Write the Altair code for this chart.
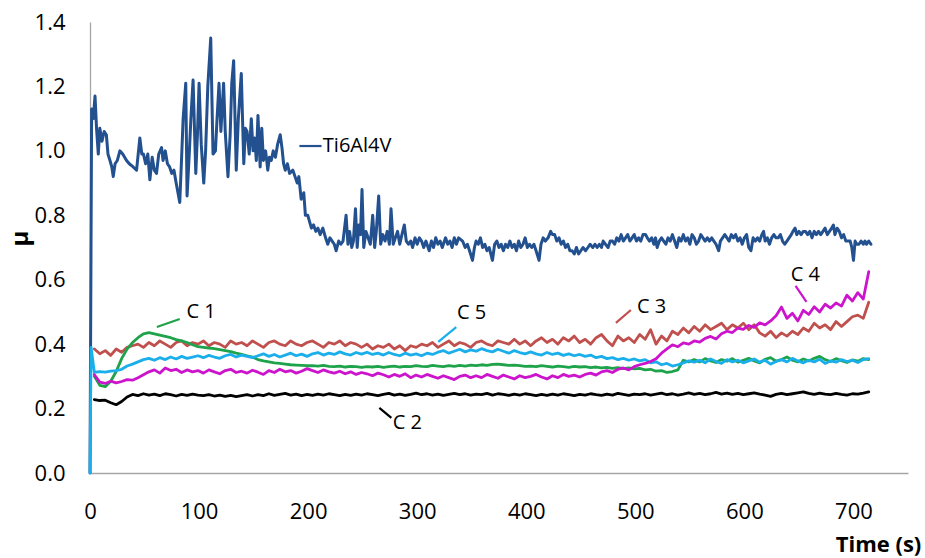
import altair as alt
import pandas as pd

# ---------------- data ----------------
TI_T = [0, 1.5, 3, 4.6, 6, 7.6, 9, 11, 13, 15, 16.5, 18.3, 20, 21.3, 23, 25, 27.4, 30, 33.5, 36,
        39.6, 42.7, 45.7, 47.5, 49, 51, 53, 54.9, 57, 59, 61, 63, 65.6, 67, 69, 71, 73, 75, 77, 79,
        82.3, 84, 85.4, 87.8, 89, 91, 92.5, 94.5, 97, 98.5, 100, 102, 104.3, 106, 108, 110.7, 112.8, 115, 116.5, 118.3,
        120, 122.5, 124, 126.5, 128.5, 130, 131.7, 134.1, 136, 138.7, 141, 142.5, 144, 146, 147.9, 149.5, 151, 152.5, 154, 156,
        157.5, 159, 161, 163, 164.5, 166.2, 168, 170, 172, 174.4, 176, 177.5, 179, 181, 183, 186, 188, 190, 191.5, 193.6,
        196, 197.5, 199.7, 201.3, 203, 205, 207, 209, 211, 213.5, 216, 218, 220, 222, 224, 225.7, 228, 230, 232, 234.8,
        236.5, 238, 240, 241.5, 243.4, 245, 246.5, 248, 249.4, 251, 253, 255, 257, 259.2, 261, 262.5, 264.7, 266.5, 268.5, 270.5,
        272.5, 274.5, 276, 278, 280, 282, 284, 286, 288.2, 290, 292, 294, 295.8, 298, 300, 302, 304, 306, 308, 311,
        313, 315, 317, 319, 321, 323, 326, 328, 330, 332, 334, 336, 338, 341.6, 344, 346, 348, 350.7, 352.5, 354,
        356, 358, 360, 362, 364, 366, 369, 371, 373, 375, 377, 379, 381, 383, 385, 387, 389, 391, 393, 395,
        397, 399, 401, 403, 405, 407, 409, 411.7, 413.5, 415.5, 417.5, 420, 422.4, 424, 426, 428, 430, 432, 434, 436,
        438, 440, 442, 444, 446, 448, 450, 452, 454.4, 456.5, 458.5, 461, 463, 465, 467, 469, 470.5, 472.7, 475, 477,
        479, 481, 483, 485, 487, 489, 491, 493, 495, 497, 499, 501, 503, 505, 507, 509.3, 511, 513, 515, 517,
        518.5, 520, 522, 524, 526, 528, 530, 532, 534, 536, 538, 540, 542, 544, 546, 548, 550, 552, 554, 556,
        558, 560, 562, 564, 566, 568, 570, 572, 574, 576.4, 578, 580, 582, 584, 586, 588, 590, 592, 594, 596,
        598, 600, 602, 604, 606, 608, 610, 612, 614, 616, 617.6, 619, 621, 623, 625, 627, 629, 631, 633, 635,
        637, 639, 641, 643, 644.5, 646.5, 648, 650, 652, 654, 656, 658, 660, 662, 664, 666, 668, 670, 672, 674,
        676, 678, 680, 681.6, 683, 685, 687, 689, 691, 693, 695.3, 697, 698.5, 700, 701.5, 703, 705, 707, 709, 710.6,
        712, 714, 716]
TI_MU = [0.00, 1.13, 1.10, 1.17, 1.07, 0.99, 1.07, 1.03, 1.06, 1.05, 0.99, 0.97, 0.95, 0.92, 0.96, 0.97, 1.00, 0.99, 0.97, 0.96,
         0.95, 0.94, 1.04, 0.99, 0.99, 0.96, 0.99, 0.91, 0.98, 0.94, 0.93, 0.99, 1.01, 0.97, 1.00, 0.96, 0.95, 0.93, 0.94, 0.90,
         0.84, 0.98, 1.10, 1.21, 0.86, 0.99, 1.10, 1.22, 0.93, 1.05, 1.21, 1.02, 0.90, 1.00, 1.20, 1.35, 0.99, 1.00, 1.10, 1.21,
         1.06, 1.21, 1.06, 0.92, 1.05, 1.21, 1.28, 0.94, 1.10, 1.24, 0.96, 1.07, 1.06, 0.99, 1.10, 1.00, 1.04, 0.97, 1.11, 0.95,
         1.07, 0.97, 1.00, 0.94, 0.98, 0.97, 1.00, 0.98, 1.02, 1.05, 1.01, 0.96, 0.94, 0.96, 0.93, 0.94, 0.92, 0.90, 0.92, 0.85,
         0.87, 0.80, 0.80, 0.78, 0.76, 0.77, 0.75, 0.76, 0.74, 0.76, 0.73, 0.71, 0.73, 0.72, 0.71, 0.69, 0.72, 0.71, 0.72, 0.80,
         0.71, 0.75, 0.70, 0.72, 0.82, 0.70, 0.77, 0.74, 0.88, 0.70, 0.75, 0.73, 0.71, 0.80, 0.70, 0.75, 0.86, 0.71, 0.74, 0.72,
         0.75, 0.71, 0.82, 0.71, 0.73, 0.75, 0.71, 0.74, 0.77, 0.72, 0.71, 0.72, 0.70, 0.73, 0.71, 0.73, 0.72, 0.70, 0.72, 0.69,
         0.72, 0.70, 0.73, 0.71, 0.72, 0.70, 0.73, 0.71, 0.72, 0.70, 0.73, 0.71, 0.73, 0.72, 0.70, 0.71, 0.69, 0.66, 0.70, 0.72,
         0.71, 0.73, 0.70, 0.71, 0.69, 0.70, 0.66, 0.71, 0.72, 0.70, 0.71, 0.69, 0.71, 0.70, 0.72, 0.70, 0.71, 0.69, 0.72, 0.70,
         0.71, 0.73, 0.70, 0.71, 0.70, 0.71, 0.69, 0.66, 0.71, 0.73, 0.72, 0.73, 0.75, 0.74, 0.74, 0.72, 0.73, 0.71, 0.72, 0.70,
         0.71, 0.69, 0.69, 0.68, 0.70, 0.68, 0.69, 0.70, 0.69, 0.70, 0.71, 0.70, 0.71, 0.70, 0.71, 0.70, 0.72, 0.71, 0.70, 0.72,
         0.72, 0.71, 0.73, 0.72, 0.74, 0.72, 0.73, 0.74, 0.72, 0.73, 0.74, 0.72, 0.73, 0.72, 0.74, 0.74, 0.73, 0.72, 0.73, 0.71,
         0.73, 0.70, 0.72, 0.73, 0.72, 0.71, 0.73, 0.72, 0.74, 0.72, 0.70, 0.73, 0.72, 0.74, 0.72, 0.73, 0.71, 0.74, 0.73, 0.71,
         0.72, 0.74, 0.73, 0.72, 0.73, 0.72, 0.73, 0.72, 0.71, 0.69, 0.72, 0.73, 0.74, 0.73, 0.72, 0.74, 0.73, 0.74, 0.72, 0.73,
         0.71, 0.73, 0.74, 0.70, 0.69, 0.73, 0.72, 0.73, 0.72, 0.74, 0.75, 0.72, 0.73, 0.71, 0.73, 0.74, 0.73, 0.73, 0.74, 0.72,
         0.71, 0.72, 0.73, 0.74, 0.75, 0.76, 0.74, 0.75, 0.74, 0.75, 0.75, 0.74, 0.75, 0.73, 0.75, 0.74, 0.75, 0.74, 0.75, 0.76,
         0.74, 0.75, 0.76, 0.77, 0.74, 0.76, 0.75, 0.73, 0.74, 0.72, 0.72, 0.72, 0.70, 0.66, 0.72, 0.71, 0.71, 0.72, 0.71, 0.72,
         0.71, 0.72, 0.71]

# sample times of the coating curves (s)
T_C = list(range(4, 715, 5))

C1_MU = [0.300, 0.272, 0.268, 0.285, 0.315, 0.355, 0.385, 0.405, 0.420, 0.432,
         0.436, 0.432, 0.428, 0.424, 0.420, 0.414, 0.410, 0.405, 0.398, 0.392,
         0.390, 0.388, 0.386, 0.383, 0.380, 0.377, 0.372, 0.368, 0.364, 0.360,
         0.352, 0.348, 0.345, 0.342, 0.340, 0.338, 0.336, 0.335, 0.334, 0.333,
         0.333, 0.332, 0.334, 0.331, 0.330, 0.332, 0.329, 0.331, 0.330, 0.328,
         0.330, 0.329, 0.331, 0.328, 0.330, 0.332, 0.329, 0.331, 0.330, 0.333,
         0.331, 0.330, 0.334, 0.332, 0.330, 0.333, 0.331, 0.334, 0.332, 0.335,
         0.333, 0.336, 0.334, 0.337, 0.338, 0.336, 0.334, 0.335, 0.333, 0.331,
         0.332, 0.330, 0.333, 0.331, 0.329, 0.332, 0.330, 0.328, 0.331, 0.329,
         0.330, 0.327, 0.329, 0.326, 0.328, 0.325, 0.327, 0.324, 0.326, 0.323,
         0.325, 0.320, 0.322, 0.316, 0.318, 0.312, 0.315, 0.320, 0.350, 0.345,
         0.352, 0.345, 0.355, 0.348, 0.343, 0.352, 0.347, 0.355, 0.344, 0.350,
         0.356, 0.348, 0.342, 0.353, 0.358, 0.347, 0.352, 0.360, 0.350, 0.345,
         0.354, 0.348, 0.356, 0.362, 0.352, 0.346, 0.355, 0.349, 0.343, 0.351,
         0.347, 0.355, 0.352]

C2_MU = [0.228, 0.225, 0.226, 0.218, 0.212, 0.222, 0.236, 0.244, 0.240, 0.246,
         0.242, 0.245, 0.240, 0.246, 0.243, 0.239, 0.244, 0.241, 0.245, 0.242,
         0.240, 0.243, 0.239, 0.242, 0.238, 0.241, 0.237, 0.240, 0.243, 0.239,
         0.243, 0.240, 0.246, 0.241, 0.244, 0.247, 0.242, 0.245, 0.240, 0.244,
         0.241, 0.245, 0.242, 0.246, 0.243, 0.240, 0.244, 0.241, 0.245, 0.242,
         0.246, 0.243, 0.240, 0.244, 0.247, 0.242, 0.245, 0.241, 0.244, 0.248,
         0.243, 0.246, 0.242, 0.245, 0.241, 0.244, 0.247, 0.243, 0.246, 0.242,
         0.245, 0.243, 0.247, 0.242, 0.246, 0.244, 0.241, 0.245, 0.242, 0.246,
         0.243, 0.240, 0.244, 0.241, 0.245, 0.242, 0.246, 0.243, 0.240, 0.244,
         0.242, 0.246, 0.243, 0.241, 0.245, 0.242, 0.247, 0.244, 0.241, 0.245,
         0.243, 0.246, 0.242, 0.245, 0.248, 0.243, 0.246, 0.242, 0.245, 0.249,
         0.244, 0.247, 0.243, 0.246, 0.250, 0.245, 0.248, 0.244, 0.247, 0.243,
         0.246, 0.249, 0.245, 0.242, 0.238, 0.244, 0.247, 0.243, 0.246, 0.249,
         0.252, 0.247, 0.244, 0.248, 0.245, 0.243, 0.247, 0.244, 0.242, 0.246,
         0.245, 0.248, 0.252]

C3_MU = [0.385, 0.370, 0.380, 0.365, 0.385, 0.375, 0.390, 0.395, 0.400, 0.390,
         0.405, 0.395, 0.410, 0.400, 0.390, 0.405, 0.410, 0.395, 0.405, 0.400,
         0.410, 0.395, 0.405, 0.400, 0.390, 0.410, 0.400, 0.405, 0.395, 0.410,
         0.400, 0.390, 0.405, 0.410, 0.400, 0.395, 0.410, 0.400, 0.395, 0.405,
         0.410, 0.400, 0.390, 0.405, 0.400, 0.410, 0.395, 0.405, 0.400, 0.390,
         0.400, 0.385, 0.395, 0.390, 0.400, 0.385, 0.395, 0.380, 0.395, 0.390,
         0.400, 0.395, 0.405, 0.390, 0.400, 0.410, 0.395, 0.405, 0.400, 0.390,
         0.405, 0.410, 0.400, 0.395, 0.410, 0.405, 0.400, 0.415, 0.400, 0.410,
         0.395, 0.410, 0.420, 0.405, 0.415, 0.400, 0.420, 0.410, 0.425, 0.405,
         0.415, 0.400, 0.420, 0.430, 0.410, 0.395, 0.425, 0.410, 0.420, 0.405,
         0.430, 0.415, 0.445, 0.400, 0.425, 0.410, 0.440, 0.430, 0.450, 0.435,
         0.455, 0.440, 0.460, 0.445, 0.455, 0.465, 0.445, 0.460, 0.450, 0.465,
         0.445, 0.460, 0.435, 0.425, 0.440, 0.420, 0.435, 0.425, 0.440, 0.430,
         0.450, 0.440, 0.465, 0.450, 0.460, 0.445, 0.470, 0.455, 0.470, 0.485,
         0.490, 0.480, 0.530]

C4_MU = [0.305, 0.282, 0.278, 0.285, 0.280, 0.284, 0.290, 0.288, 0.296, 0.305,
         0.314, 0.320, 0.310, 0.326, 0.318, 0.322, 0.312, 0.320, 0.314, 0.318,
         0.310, 0.320, 0.314, 0.308, 0.318, 0.322, 0.312, 0.316, 0.310, 0.319,
         0.313, 0.306, 0.318, 0.312, 0.322, 0.314, 0.318, 0.310, 0.316, 0.324,
         0.318, 0.312, 0.320, 0.314, 0.310, 0.316, 0.308, 0.314, 0.306, 0.312,
         0.308, 0.302, 0.310, 0.305, 0.298, 0.306, 0.300, 0.308, 0.296, 0.304,
         0.298, 0.306, 0.300, 0.294, 0.302, 0.296, 0.290, 0.300, 0.304, 0.296,
         0.302, 0.296, 0.306, 0.300, 0.294, 0.304, 0.298, 0.292, 0.302, 0.296,
         0.300, 0.306, 0.298, 0.292, 0.302, 0.296, 0.306, 0.300, 0.304, 0.298,
         0.306, 0.310, 0.304, 0.314, 0.318, 0.312, 0.322, 0.326, 0.320, 0.330,
         0.336, 0.340, 0.346, 0.355, 0.372, 0.385, 0.398, 0.392, 0.404, 0.400,
         0.410, 0.406, 0.418, 0.424, 0.416, 0.432, 0.440, 0.436, 0.450, 0.446,
         0.458, 0.452, 0.466, 0.460, 0.472, 0.488, 0.515, 0.480, 0.496, 0.472,
         0.505, 0.492, 0.516, 0.500, 0.524, 0.512, 0.528, 0.518, 0.552, 0.534,
         0.560, 0.540, 0.625]

C5_START_T = [0, 1]
C5_START_MU = [0.0, 0.39]
C5_MU = [0.312, 0.315, 0.313, 0.316, 0.318, 0.322, 0.332, 0.338, 0.345, 0.352,
         0.356, 0.350, 0.358, 0.352, 0.360, 0.354, 0.362, 0.356, 0.360, 0.364,
         0.358, 0.365, 0.360, 0.356, 0.364, 0.368, 0.360, 0.366, 0.362, 0.358,
         0.364, 0.370, 0.362, 0.368, 0.360, 0.366, 0.372, 0.364, 0.369, 0.362,
         0.370, 0.374, 0.366, 0.372, 0.368, 0.376, 0.370, 0.366, 0.374, 0.369,
         0.375, 0.368, 0.372, 0.366, 0.374, 0.368, 0.364, 0.372, 0.366, 0.370,
         0.364, 0.372, 0.368, 0.375, 0.380, 0.372, 0.378, 0.384, 0.376, 0.382,
         0.378, 0.386, 0.380, 0.376, 0.384, 0.378, 0.372, 0.380, 0.374, 0.370,
         0.376, 0.370, 0.366, 0.374, 0.368, 0.372, 0.365, 0.370, 0.364, 0.368,
         0.362, 0.366, 0.358, 0.362, 0.355, 0.358, 0.352, 0.356, 0.350, 0.354,
         0.348, 0.352, 0.342, 0.345, 0.336, 0.340, 0.332, 0.336, 0.342, 0.348,
         0.344, 0.350, 0.342, 0.354, 0.346, 0.340, 0.352, 0.345, 0.350, 0.342,
         0.348, 0.354, 0.344, 0.350, 0.338, 0.346, 0.352, 0.345, 0.356, 0.348,
         0.342, 0.350, 0.345, 0.353, 0.340, 0.348, 0.344, 0.352, 0.346, 0.350,
         0.343, 0.352, 0.355]

# annotation labels (data coordinates of text anchor and of the leader line ends)
LABELS = ["Ti6Al4V", "C 1", "C 2", "C 3", "C 4", "C 5"]
LABEL_T = [213.5, 88.5, 277.5, 501.5, 642.5, 336.5]
LABEL_MU = [1.015, 0.500, 0.155, 0.515, 0.615, 0.497]
LEAD_T1 = [192.0, 61.3, 265.3, 482.2, 646.9, 319.3]
LEAD_MU1 = [1.015, 0.453, 0.202, 0.466, 0.581, 0.407]
LEAD_T2 = [212.3, 82.3, 276.3, 495.9, 656.9, 335.8]
LEAD_MU2 = [1.015, 0.478, 0.171, 0.506, 0.531, 0.453]

COLORS = {"Ti6Al4V": "#23508E", "C 1": "#1EA34B", "C 2": "#000000",
          "C 3": "#C0504D", "C 4": "#CC14CC", "C 5": "#1AAEEB"}

# ---------------- chart ----------------
FONT = "Open Sans"
x_scale = alt.Scale(domain=[0, 750], nice=False, zero=False)
y_scale = alt.Scale(domain=[0, 1.4], nice=False)

x_axis = alt.Axis(values=[0, 100, 200, 300, 400, 500, 600, 700], grid=False, ticks=False, tickSize=0,
                  domainColor="#A6A6A6", domainWidth=1.3, labelFont=FONT, labelFontSize=22,
                  labelColor="#000000", labelPadding=28, labelFlush=False,
                  title="Time (s)", titleFont=FONT, titleFontSize=22, titleFontWeight="bold",
                  titleColor="#000000", titleX=788, titleY=71, titleAlign="center",
                  titleBaseline="middle")
y_axis = alt.Axis(values=[0, 0.2, 0.4, 0.6, 0.8, 1.0, 1.2, 1.4], format=".1f", grid=False,
                  ticks=False, tickSize=0, domainColor="#A6A6A6", domainWidth=1.3,
                  labelFont=FONT, labelFontSize=22, labelColor="#000000", labelPadding=25,
                  labelFlush=False,
                  title="µ", titleFont=FONT, titleFontSize=24, titleFontWeight="bold",
                  titleColor="#000000", titleX=-70, titleY=216, titleAlign="center",
                  titleBaseline="middle", titleAngle=270)


def line_layer(t, mu, name, width=2.8):
    df = pd.DataFrame({"t": t, "mu": mu})
    return alt.Chart(df).mark_line(color=COLORS[name], strokeWidth=width,
                                   strokeJoin="round", strokeCap="round").encode(
        x=alt.X("t:Q", scale=x_scale, axis=x_axis),
        y=alt.Y("mu:Q", scale=y_scale, axis=y_axis),
        order=alt.Order("t:Q"),
    )


layers = [
    line_layer(TI_T, TI_MU, "Ti6Al4V", width=3.0),
    line_layer(T_C, C3_MU, "C 3"),
    line_layer(T_C, C1_MU, "C 1"),
    line_layer(C5_START_T + T_C, C5_START_MU + C5_MU, "C 5"),
    line_layer(T_C, C4_MU, "C 4"),
    line_layer(T_C, C2_MU, "C 2"),
]

lead_df = pd.DataFrame({"label": LABELS, "t1": LEAD_T1, "mu1": LEAD_MU1,
                        "t2": LEAD_T2, "mu2": LEAD_MU2})
leaders = alt.Chart(lead_df).mark_rule(strokeWidth=2.2).encode(
    x=alt.X("t1:Q", scale=x_scale, axis=x_axis),
    y=alt.Y("mu1:Q", scale=y_scale, axis=y_axis),
    x2="t2:Q",
    y2="mu2:Q",
    color=alt.Color("label:N", scale=alt.Scale(domain=list(COLORS.keys()),
                                               range=list(COLORS.values())), legend=None),
)

text_df = pd.DataFrame({"label": LABELS, "t": LABEL_T, "mu": LABEL_MU})
texts = alt.Chart(text_df).mark_text(align="left", baseline="middle", font=FONT,
                                     fontSize=20, color="#000000").encode(
    x=alt.X("t:Q", scale=x_scale, axis=x_axis),
    y=alt.Y("mu:Q", scale=y_scale, axis=y_axis),
    text="label:N",
)

chart = alt.layer(*layers, leaders, texts).properties(
    width=818, height=451,
    padding={"left": 90, "top": 22, "right": 17, "bottom": 85},
    autosize=alt.AutoSizeParams(type="none"),
    background="#FFFFFF",
).configure_view(stroke=None)

chart.save("out.html", embed_options={"renderer": "svg", "actions": False})
